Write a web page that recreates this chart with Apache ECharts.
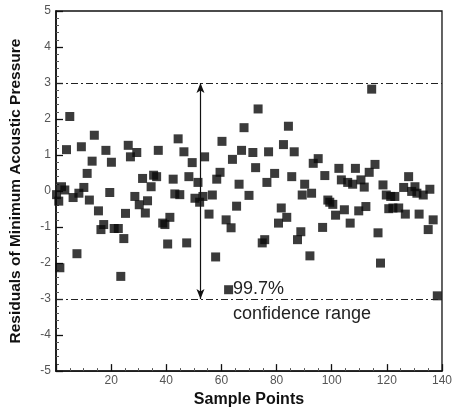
<!DOCTYPE html>
<html>
<head>
<meta charset="utf-8">
<script src="https://cdn.jsdelivr.net/npm/echarts@6/dist/echarts.min.js"></script>
<style>
html,body{margin:0;padding:0;background:#fff;}
#chart{width:455px;height:413px;}
</style>
</head>
<body>
<div id="chart"></div>
<script>
// Sample index (x) and residual (y)
const sampleX = [
  5,13.9,3.8,9.2,18.1,26.2,29.3,27,37.1,44.3,13.1,20.1,11.3,31.4,35.4,36.5,42.5,34.5,2,0.2,3.2,6.2,8.3,10.1,12.1,19.5,28.6,30.2,33.2,32.4,43.1,44.9,15.4,25.2,17.3,16.3,21.1,22.6,24.6,38.7,41.3,39.5,40.5,7.6,1.4,23.5,1.0,
  73.3,68.2,84.3,60.2,46.4,53.9,49.4,67.3,71.4,64,77.1,82.5,86.4,72.4,48.2,51.5,59.5,58.3,66.4,79.3,76.5,85.5,90.2,50.4,52.1,56.7,53.3,70,89.3,65.5,55.5,81.7,61.7,63.5,83.7,80.7,47.4,74.8,75.7,88.8,87.6,57.9,62.6,
  114.5,95.1,93.3,97.5,102.6,108.6,115.7,113.6,103.5,105.8,107.6,110.6,111.8,118.6,119.8,122.9,127.9,126.1,130.2,129,133.2,135.6,92.7,99.3,98.6,100.4,101.4,104.6,109.8,112.4,120.7,124.3,126.7,131.7,136.8,135,106.7,96.7,116.8,92.1,117.7,138.3,121.4,122.2,130.9
];
const residuals = [
  2.07,1.55,1.15,1.23,1.13,1.27,1.07,0.95,1.13,1.45,0.83,0.80,0.49,0.35,0.44,0.40,0.33,0.12,0.12,-0.1,0.03,-0.18,-0.06,0.10,-0.25,-0.04,-0.15,-0.38,-0.27,-0.61,-0.08,-0.1,-0.55,-0.62,-0.93,-1.07,-1.04,-1.04,-1.32,-0.89,-0.73,-0.93,-1.47,-1.74,-2.13,-2.37,-0.28,
  2.28,1.76,1.80,1.38,1.09,0.95,0.79,1.13,1.07,0.88,1.09,1.29,1.09,0.65,0.40,0.24,0.52,0.33,0.19,0.49,0.24,0.40,0.19,-0.2,-0.31,-0.11,-0.15,-0.12,-0.11,-0.42,-0.64,-0.47,-0.80,-1.02,-0.73,-0.89,-1.44,-1.44,-1.35,-1.13,-1.35,-1.83,-2.74,
  2.83,0.90,0.77,0.43,0.63,0.63,0.74,0.52,0.31,0.24,0.19,0.31,0.11,0.17,-0.11,-0.15,0.40,0.10,0.12,-0.01,-0.11,0.05,-0.06,-0.31,-0.25,-0.37,-0.67,-0.52,-0.55,-0.43,-0.49,-0.47,-0.64,-0.64,-0.80,-1.07,-0.89,-1.01,-1.16,-1.8,-2.0,-2.91,-0.15,-0.47,-0.06
];
const confidenceLimits = [3, -3];
const arrowX = 52.4;
const yTicks = [-5,-4,-3,-2,-1,0,1,2,3,4,5];
const xTicks = [20,40,60,80,100,120,140];

const points = sampleX.map((x, i) => [x, residuals[i]]);

const chart = echarts.init(document.getElementById('chart'), null, {renderer: 'canvas'});
const labelFont = '"Liberation Sans", Arial, sans-serif';
chart.setOption({
  animation: false,
  backgroundColor: '#fff',
  grid: {left: 50, right: 13, top: 11, bottom: 37, show: true, borderColor: '#111', borderWidth: 1.3, backgroundColor: 'transparent'},
  xAxis: {
    type: 'value', min: 0, max: 140, interval: 20,
    name: 'Sample Points', nameLocation: 'middle', nameGap: 20,
    nameTextStyle: {fontFamily: labelFont, fontWeight: 'bold', fontSize: 16, color: '#111'},
    axisLine: {show: true, onZero: false, lineStyle: {color: '#111', width: 1.6}},
    axisTick: {show: true, inside: true, length: 7, lineStyle: {color: '#111', width: 1.3}},
    minorTick: {show: true, splitNumber: 4, length: 3, lineStyle: {color: '#555', width: 1}},
    splitLine: {show: false},
    axisLabel: {fontFamily: labelFont, fontSize: 12, color: '#555', margin: 4,
      formatter: v => xTicks.indexOf(v) >= 0 ? String(v) : ''}
  },
  yAxis: {
    type: 'value', min: -5, max: 5, interval: 1,
    name: 'Residuals of Minimum Acoustic Pressure', nameLocation: 'middle', nameGap: 32,
    nameTextStyle: {fontFamily: labelFont, fontWeight: 'bold', fontSize: 15.5, color: '#111'},
    axisLine: {show: true, onZero: false, lineStyle: {color: '#111', width: 1.6}},
    axisTick: {show: true, inside: true, length: 7, lineStyle: {color: '#111', width: 1.3}},
    minorTick: {show: true, splitNumber: 5, length: 3, lineStyle: {color: '#555', width: 1}},
    splitLine: {show: false},
    axisLabel: {fontFamily: labelFont, fontSize: 12, color: '#555', margin: 5,
      formatter: v => yTicks.indexOf(v) >= 0 ? String(v) : ''}
  },
  series: [
    {
      type: 'scatter',
      data: points,
      symbol: 'rect',
      symbolSize: 9,
      itemStyle: {color: '#0a0a0a'},
      z: 3,
      markLine: {
        silent: true,
        symbol: ['none', 'none'],
        label: {show: false},
        lineStyle: {color: '#222', width: 1, type: [7, 3, 2, 3]},
        data: confidenceLimits.map(v => ({yAxis: v}))
      }
    },
    {
      type: 'line',
      data: [],
      markLine: {
        silent: true,
        symbol: ['arrow', 'arrow'],
        symbolSize: [6, 10],
        label: {show: false},
        lineStyle: {color: '#111', width: 1.2, type: 'solid'},
        data: [[{coord: [arrowX, confidenceLimits[0]]}, {coord: [arrowX, confidenceLimits[1]]}]]
      }
    }
  ],
  graphic: [
    {type: 'text', left: 233, top: 280, style: {text: '99.7%', font: '18px "Liberation Sans", Arial, sans-serif', fill: '#222'}},
    {type: 'text', left: 233, top: 305, style: {text: 'confidence range', font: '18px "Liberation Sans", Arial, sans-serif', fill: '#222'}}
  ]
});
</script>
</body>
</html>
